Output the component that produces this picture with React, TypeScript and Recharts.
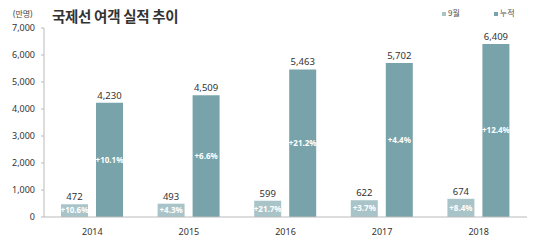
import { BarChart, Bar, XAxis, YAxis, LabelList } from "recharts";

const years = ["2014", "2015", "2016", "2017", "2018"];
const september = [472, 493, 599, 622, 674];
const cumulative = [4230, 4509, 5463, 5702, 6409];
const septemberGrowth = ["+10.6%", "+4.3%", "+21.7%", "+3.7%", "+8.4%"];
const cumulativeGrowth = ["+10.1%", "+6.6%", "+21.2%", "+4.4%", "+12.4%"];
const yTicks = [0, 1000, 2000, 3000, 4000, 5000, 6000, 7000];

const LIGHT = "#a9c4c8";
const DARK = "#78a3aa";
const FONT = "'Noto Sans', 'Noto Sans CJK KR', sans-serif";

const chartData = years.map((year, i) => ({
  year,
  sep: september[i],
  cum: cumulative[i],
  sepGrowth: septemberGrowth[i],
  cumGrowth: cumulativeGrowth[i],
}));

const fmt = (v: number) => v.toLocaleString("en-US");

const App = () => {
  return (
    <div
      style={{
        position: "absolute",
        left: 0,
        top: 0,
        width: 540,
        height: 241,
        background: "#fff",
        fontFamily: FONT,
      }}
    >
      {/* unit + title */}
      <div style={{ position: "absolute", left: 13, top: 8, fontSize: 8, color: "#444" }}>
        (만명)
      </div>
      <div
        style={{
          position: "absolute",
          left: 52,
          top: 5,
          fontSize: 14.5,
          fontWeight: 700,
          color: "#333",
          fontFamily: "'Noto Sans CJK KR', sans-serif",
          letterSpacing: -0.3,
        }}
      >
        국제선 여객 실적 추이
      </div>

      {/* legend */}
      <div
        style={{
          position: "absolute",
          left: 442,
          top: 7,
          fontSize: 8,
          color: "#555",
          display: "flex",
          gap: 34,
          fontFamily: "'Noto Sans CJK KR', sans-serif",
        }}
      >
        <span>
          <span style={{ display: "inline-block", width: 4, height: 4, background: LIGHT, marginRight: 2, verticalAlign: "middle" }} />
          9월
        </span>
        <span>
          <span style={{ display: "inline-block", width: 4, height: 4, background: DARK, marginRight: 2, verticalAlign: "middle" }} />
          누적
        </span>
      </div>

      <BarChart
        width={540}
        height={241}
        data={chartData}
        margin={{ top: 28, right: 13, left: 0, bottom: 0 }}
        barSize={27}
        barGap={8}
        style={{ position: "absolute", left: 0, top: 0 }}
      >
        <XAxis
          dataKey="year"
          height={24}
          axisLine={{ stroke: "#bbb" }}
          tickLine={false}
          tickMargin={6}
          tick={{ fontSize: 9, fill: "#333", fontFamily: FONT }}
        />
        <YAxis
          width={44}
          domain={[0, 7000]}
          ticks={yTicks}
          tickFormatter={fmt}
          axisLine={{ stroke: "#bbb" }}
          tickLine={{ stroke: "#bbb" }}
          tickSize={3}
          tickMargin={6}
          tick={{ fontSize: 9, fill: "#333", fontFamily: FONT }}
        />
        <Bar dataKey="sep" fill={LIGHT} isAnimationActive={false}>
          <LabelList dataKey="sep" position="top" offset={4} formatter={(v: any) => fmt(Number(v))} style={{ fontSize: 9.5, fill: "#333", fontFamily: FONT }} />
          <LabelList dataKey="sepGrowth" position="center" style={{ fontSize: 8, fill: "#fff", fontWeight: 700, fontFamily: FONT }} />
        </Bar>
        <Bar dataKey="cum" fill={DARK} isAnimationActive={false}>
          <LabelList dataKey="cum" position="top" offset={4} formatter={(v: any) => fmt(Number(v))} style={{ fontSize: 9.5, fill: "#333", fontFamily: FONT }} />
          <LabelList dataKey="cumGrowth" position="center" style={{ fontSize: 8, fill: "#fff", fontWeight: 700, fontFamily: FONT }} />
        </Bar>
      </BarChart>
    </div>
  );
};

export default App;
